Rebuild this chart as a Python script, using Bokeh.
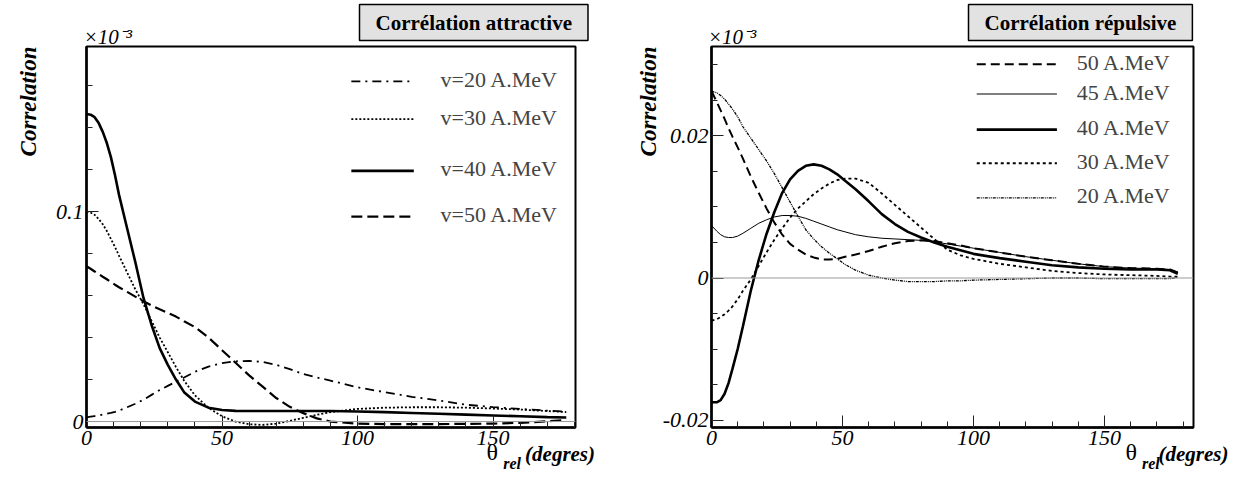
import numpy as np
from bokeh.plotting import figure
from bokeh.layouts import row
from bokeh.models import FixedTicker, Label, Span, Range1d, LinearAxis, Title
from bokeh.embed import file_html
from bokeh.resources import INLINE

SERIF = "Liberation Serif"

# ---------------- Attractive correlation (values in units of 1e-3) ----------------
theta_att = [0, 1.5, 3, 4.5, 6, 7.5, 9, 10.5, 12, 15, 18, 21, 24, 27, 30, 33, 36, 40, 45, 50,
             55, 60, 65, 70, 75, 80, 85, 90, 100, 110, 120, 130, 140, 150, 160, 170, 177]
att_v20 = [0.0020, 0.0023, 0.0026, 0.0029, 0.0033, 0.0037, 0.0041, 0.0046, 0.0052, 0.0068,
           0.0085, 0.0104, 0.0127, 0.0150, 0.0170, 0.0190, 0.0210, 0.0237, 0.0262, 0.0278,
           0.0287, 0.0289, 0.0284, 0.0270, 0.0250, 0.0226, 0.0210, 0.0195, 0.0163, 0.0140,
           0.0118, 0.0100, 0.0080, 0.0069, 0.0060, 0.0052, 0.0047]
att_v30 = [0.1000, 0.0996, 0.0985, 0.0965, 0.0940, 0.0908, 0.0870, 0.0832, 0.0790, 0.0710,
           0.0630, 0.0560, 0.0480, 0.0400, 0.0330, 0.0260, 0.0195, 0.0125, 0.0065, 0.0025,
           0.0000, -0.0013, -0.0016, -0.0010, 0.0003, 0.0018, 0.0032, 0.0045, 0.0060, 0.0066,
           0.0068, 0.0068, 0.0066, 0.0062, 0.0057, 0.0050, 0.0045]
att_v40 = [0.1465, 0.1462, 0.1450, 0.1422, 0.1380, 0.1327, 0.1260, 0.1175, 0.1080, 0.0920,
           0.0760, 0.0590, 0.0460, 0.0350, 0.0270, 0.0200, 0.0140, 0.0095, 0.0066, 0.0055,
           0.0051, 0.0050, 0.0050, 0.0050, 0.0050, 0.0050, 0.0050, 0.0050, 0.0048, 0.0045,
           0.0041, 0.0037, 0.0033, 0.0029, 0.0025, 0.0021, 0.0019]
att_v50 = [0.0740, 0.0728, 0.0715, 0.0703, 0.0690, 0.0678, 0.0665, 0.0652, 0.0640, 0.0618,
           0.0595, 0.0573, 0.0553, 0.0535, 0.0518, 0.0500, 0.0478, 0.0450, 0.0400, 0.0340,
           0.0280, 0.0220, 0.0166, 0.0112, 0.0070, 0.0040, 0.0015, 0.0000, -0.0010, -0.0012,
           -0.0012, -0.0012, -0.0011, -0.0010, -0.0006, 0.0001, 0.0008]
att_labels = ["v=20 A.MeV", "v=30 A.MeV", "v=40 A.MeV", "v=50 A.MeV"]

# ---------------- Repulsive correlation (values in units of 1e-3) ----------------
theta_rep = [0, 2, 3.5, 5, 6.5, 8, 10, 12, 15, 18, 21, 24, 27, 30, 33, 36, 39, 42, 45, 48,
             51, 55, 60, 65, 70, 75, 80, 85, 90, 95, 100, 110, 120, 130, 140, 150, 160, 170,
             175, 178]
rep_50 = [0.0263, 0.0248, 0.0236, 0.0224, 0.0211, 0.0199, 0.0184, 0.0168, 0.0143, 0.0120,
          0.0098, 0.0078, 0.0061, 0.0048, 0.0040, 0.0033, 0.0029, 0.0026, 0.0026, 0.0027,
          0.0030, 0.0033, 0.0038, 0.0044, 0.0049, 0.0052, 0.0053, 0.0052, 0.0049, 0.0046,
          0.0042, 0.0036, 0.0030, 0.0025, 0.0020, 0.0016, 0.0014, 0.0013, 0.0012, 0.0008]
rep_45 = [0.0074, 0.0066, 0.0061, 0.0058, 0.0057, 0.0057, 0.0059, 0.0063, 0.0070, 0.0077,
          0.0082, 0.0086, 0.0088, 0.0088, 0.0087, 0.0084, 0.0080, 0.0076, 0.0072, 0.0068,
          0.0065, 0.0061, 0.0058, 0.0056, 0.0055, 0.0054, 0.0053, 0.0051, 0.0048, 0.0045,
          0.0042, 0.0036, 0.0030, 0.0025, 0.0020, 0.0016, 0.0014, 0.0013, 0.0012, 0.0008]
rep_40 = [-0.0175, -0.0175, -0.0172, -0.0163, -0.0148, -0.0128, -0.0100, -0.0068, -0.0018, 0.0025,
          0.0062, 0.0093, 0.0120, 0.0139, 0.0151, 0.0158, 0.0160, 0.0158, 0.0153, 0.0146,
          0.0137, 0.0125, 0.0108, 0.0090, 0.0076, 0.0065, 0.0057, 0.0050, 0.0044, 0.0039,
          0.0034, 0.0028, 0.0023, 0.0018, 0.0015, 0.0013, 0.0012, 0.0012, 0.0011, 0.0006]
rep_30 = [-0.0060, -0.0058, -0.0055, -0.0051, -0.0046, -0.0040, -0.0030, -0.0018, -0.0002, 0.0017,
          0.0036, 0.0054, 0.0070, 0.0085, 0.0098, 0.0108, 0.0118, 0.0126, 0.0133, 0.0138,
          0.0140, 0.0140, 0.0134, 0.0119, 0.0103, 0.0087, 0.0071, 0.0055, 0.0040, 0.0032,
          0.0027, 0.0020, 0.0015, 0.0010, 0.0007, 0.0005, 0.0004, 0.0003, 0.0002, 0.0002]
rep_20 = [0.0263, 0.0261, 0.0257, 0.0252, 0.0245, 0.0238, 0.0227, 0.0213, 0.0197, 0.0181,
          0.0165, 0.0147, 0.0127, 0.0107, 0.0087, 0.0068, 0.0055, 0.0044, 0.0035, 0.0027,
          0.0019, 0.0011, 0.0004, 0.0000, -0.0003, -0.0005, -0.0005, -0.0005, -0.0004, -0.0004,
          -0.0003, -0.0002, -0.0001, 0.0000, 0.0000, -0.0001, -0.0001, -0.0001, -0.0001, 0.0001]
rep_labels = ["50 A.MeV", "45 A.MeV", "40 A.MeV", "30 A.MeV", "20 A.MeV"]

x_major = [0, 50, 100, 150]
x_minor = list(range(0, 181, 10))


def make_panel(width, borders, xr, yr, y_major, y_minor, y_label_text):
    left, right, top, bottom = borders
    p = figure(width=width, height=479, x_range=Range1d(*xr), y_range=Range1d(*yr),
               output_backend="svg", toolbar_location=None,
               min_border_left=left, min_border_right=right,
               min_border_top=top, min_border_bottom=bottom)
    p.grid.visible = False
    p.background_fill_color = "white"
    p.border_fill_color = "white"
    p.outline_line_color = "black"
    p.outline_line_width = 2
    for ax in (p.xaxis[0], p.yaxis[0]):
        ax.axis_line_width = 2.5
        ax.axis_line_color = "black"
        ax.major_tick_in = 12
        ax.major_tick_out = 0
        ax.minor_tick_in = 6
        ax.minor_tick_out = 0
        ax.major_tick_line_color = "#222222"
        ax.minor_tick_line_color = "#222222"
        ax.major_label_text_font = SERIF
        ax.major_label_text_font_style = "italic"
        ax.major_label_text_font_size = "22px"
        ax.major_label_text_color = "black"
        ax.major_label_standoff = 3
    p.xaxis[0].ticker = FixedTicker(ticks=x_major, minor_ticks=x_minor)
    p.yaxis[0].ticker = FixedTicker(ticks=y_major, minor_ticks=y_minor)
    p.yaxis[0].major_label_overrides = y_label_text
    p.add_layout(Span(location=0, dimension="width", line_color="#9a9a9a", line_width=1))
    return p


def text_axis(p, side, pos, text, size, style, standoff, orientation="horizontal"):
    """A bare axis carrying a single tick label, used to place a text outside the frame."""
    ax = LinearAxis(ticker=FixedTicker(ticks=[pos], minor_ticks=[]),
                    major_label_overrides={pos: text},
                    axis_line_color=None, major_tick_line_color=None,
                    minor_tick_line_color=None,
                    major_tick_in=0, major_tick_out=0, minor_tick_in=0, minor_tick_out=0,
                    major_label_standoff=standoff,
                    major_label_orientation=orientation,
                    major_label_text_font=SERIF, major_label_text_font_size=size,
                    major_label_text_font_style=style, major_label_text_color="black")
    p.add_layout(ax, side)


def decorate(p, title, title_offset, pos, ylab_standoff):
    # vertical axis title hanging from the top of the y axis
    text_axis(p, "left", pos["ylab"], "Correlation", "23px", "bold italic", ylab_standoff,
              np.pi / 2)
    # boxed panel title
    p.add_layout(Title(text=title, align="left", offset=title_offset, vertical_align="top",
                       standoff=8, text_font=SERIF, text_font_style="bold",
                       text_font_size="21px", text_color="black",
                       background_fill_color="#e2e2e2", border_line_color="black",
                       border_line_width=1.5,
                       padding=dict(left=16, right=16, top=6, bottom=6)), "above")
    # exponent marker above the frame
    text_axis(p, "above", pos["exp"], "\u00d710\u207b\u00b3", "21px", "italic", -48)
    # x title: theta_rel (degres)
    text_axis(p, "below", pos["theta"], "\u03b8", "24px", "normal", -9)
    text_axis(p, "below", pos["rel"], "rel", "16px", "bold italic", -13)
    text_axis(p, "below", pos["deg"], "(degres)", "21px", "bold italic", -33)


def px_to_data(p, frame, px, py):
    """Convert a canvas pixel position into data coordinates of panel p."""
    fx0, fx1, fy0, fy1 = frame
    xs, xe = p.x_range.start, p.x_range.end
    ys, ye = p.y_range.start, p.y_range.end
    x = xs + (px - fx0) / (fx1 - fx0) * (xe - xs)
    y = ye - (py - fy0) / (fy1 - fy0) * (ye - ys)
    return x, y


def legend(p, frame, offset, rows, x0, x1, xt):
    for (py, text, style) in rows:
        xa, y = px_to_data(p, frame, x0 - offset, py)
        xb, _ = px_to_data(p, frame, x1 - offset, py)
        xtd, yt = px_to_data(p, frame, xt - offset, py - 2)
        p.line([xa, xb], [y, y], line_color="black", **style)
        p.add_layout(Label(x=xtd, y=yt, text=text, text_font=SERIF, text_font_size="22px",
                           text_baseline="middle"))


# ---------------- left panel ----------------
att_styles = [
    dict(line_width=1.8, line_dash="9 5 2 5"),
    dict(line_width=1.8, line_dash="2 2"),
    dict(line_width=2.6),
    dict(line_width=2.2, line_dash="11 5"),
]
att_yrange = (-0.00284, 0.1787)
p1 = make_panel(620, (82, 45, 45, 51), (0, 180.4), att_yrange,
                [0, 0.1], [0.02, 0.04, 0.06, 0.08, 0.12, 0.14, 0.16],
                {0: "0", 0.1: "0.1"})
for ys, st in zip([att_v20, att_v30, att_v40, att_v50], att_styles):
    p1.line(theta_att, ys, line_color="black", **st)
frame1 = (82, 575, 45, 428)
legend(p1, frame1, 0,
       [(80, att_labels[0], att_styles[0]), (118, att_labels[1], att_styles[1]),
        (170, att_labels[2], att_styles[2]), (216, att_labels[3], att_styles[3])],
       349, 412, 439)
decorate(p1, "Corr\u00e9lation attractive", 273,
         dict(ylab=att_yrange[1], exp=7.9, theta=149.7, rel=157.0, deg=174.7), 24)

# ---------------- right panel ----------------
rep_styles = [
    dict(line_width=2.0, line_dash="9 5"),
    dict(line_width=1.0),
    dict(line_width=2.6),
    dict(line_width=1.8, line_dash="3 3"),
    dict(line_width=1.3, line_dash="3 1 1 1 1 1"),
]
rep_yrange = (-0.02105, 0.0326)
p2 = make_panel(623, (86, 50, 42, 52), (0, 184), rep_yrange,
                [-0.02, 0, 0.02],
                [-0.015, -0.01, -0.005, 0.005, 0.01, 0.015, 0.025, 0.03],
                {-0.02: "-0.02", 0: "0", 0.02: "0.02"})
for ys, st in zip([rep_50, rep_45, rep_40, rep_30, rep_20], rep_styles):
    p2.line(theta_rep, ys, line_color="black", **st)
frame2 = (86, 573, 42, 427)
legend(p2, frame2, 620,
       [(60, rep_labels[0], rep_styles[0]), (90, rep_labels[1], rep_styles[1]),
        (126, rep_labels[2], rep_styles[2]), (160, rep_labels[3], rep_styles[3]),
        (195, rep_labels[4], rep_styles[4])],
       974, 1055, 1075)
decorate(p2, "Corr\u00e9lation r\u00e9pulsive", 257,
         dict(ylab=rep_yrange[1], exp=7.9, theta=160.2, rel=167.7, deg=184), 11)

layout = row(p1, p2)
open("out.html", "w").write(file_html(layout, INLINE))
